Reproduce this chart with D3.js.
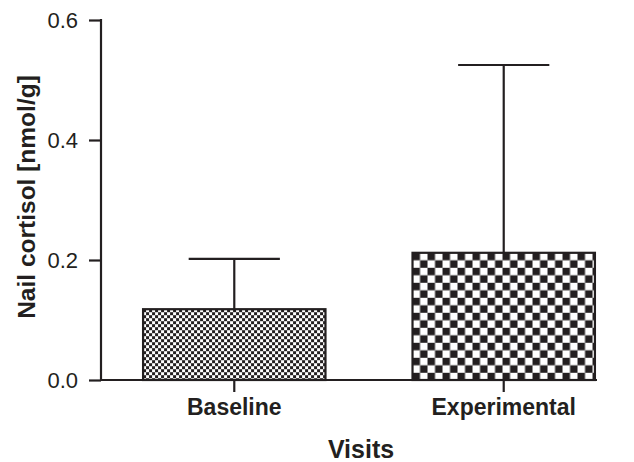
<!DOCTYPE html>
<html>
<head>
<meta charset="utf-8">
<script src="https://cdn.jsdelivr.net/npm/d3@7/dist/d3.min.js"></script>
<style>
  html, body { margin: 0; padding: 0; background: #fff; }
  svg { display: block; }
  text { font-family: "Liberation Sans", Arial, Helvetica, sans-serif; fill: #231f20; }
</style>
</head>
<body>
<svg id="chart" width="634" height="462"></svg>
<script>
const categories = ["Baseline", "Experimental"];
const means = [0.118, 0.212];
const errorTops = [0.202, 0.525];
const yTicks = [0.0, 0.2, 0.4, 0.6];
const yTickLabels = ["0.0", "0.2", "0.4", "0.6"];
const patterns = ["fineCheck", "coarseCheck"];

const ink = "#231f20";
const svg = d3.select("#chart");
const y = d3.scaleLinear().domain([0, 0.6]).range([380, 20]);
const x = d3.scaleBand().domain(categories).range([99.5, 638.5]).paddingInner(0.323).paddingOuter(0.1617);

const defs = svg.append("defs");
function checker(id, size, bx, by) {
  const p = defs.append("pattern").attr("id", id).attr("patternUnits", "userSpaceOnUse")
    .attr("width", size * 2).attr("height", size * 2).attr("x", bx).attr("y", by);
  p.append("rect").attr("width", size * 2).attr("height", size * 2).attr("fill", "#fff");
  p.append("rect").attr("width", size).attr("height", size).attr("fill", ink);
  p.append("rect").attr("x", size).attr("y", size).attr("width", size).attr("height", size).attr("fill", ink);
}
checker("fineCheck", 3, x(categories[0]), y(means[0]));
checker("coarseCheck", 7.5, x(categories[1]), y(means[1]));

// Bars
svg.selectAll("rect.bar").data(categories).join("rect")
  .attr("class", "bar")
  .attr("x", d => x(d))
  .attr("y", (d, i) => y(means[i]))
  .attr("width", x.bandwidth())
  .attr("height", (d, i) => y(0) - y(means[i]))
  .attr("fill", (d, i) => `url(#${patterns[i]})`)
  .attr("stroke", ink).attr("stroke-width", 2.2);

// Error bars
const capW = x.bandwidth() / 2;
categories.forEach((c, i) => {
  const cx = x(c) + x.bandwidth() / 2;
  svg.append("line").attr("x1", cx).attr("x2", cx).attr("y1", y(means[i])).attr("y2", y(errorTops[i]))
    .attr("stroke", ink).attr("stroke-width", 2.2);
  svg.append("line").attr("x1", cx - capW / 2).attr("x2", cx + capW / 2).attr("y1", y(errorTops[i])).attr("y2", y(errorTops[i]))
    .attr("stroke", ink).attr("stroke-width", 2.2);
});

// Y axis
const yAxis = d3.axisLeft(y).tickValues(yTicks).tickFormat((d, i) => yTickLabels[i]).tickSize(12).tickPadding(11);
const gy = svg.append("g").attr("transform", "translate(101,0)").call(yAxis);
gy.select(".domain").attr("stroke", ink).attr("stroke-width", 2.2).attr("d", "M0,19V381");
gy.selectAll(".tick line").attr("stroke", ink).attr("stroke-width", 2.2);
gy.selectAll(".tick text").attr("font-size", 22).attr("font-family", "Liberation Sans, Arial, sans-serif").attr("fill", ink).attr("dy", "0.36em");

// X axis
const xAxis = d3.axisBottom(x).tickSize(12).tickPadding(10);
const gx = svg.append("g").attr("transform", "translate(0,380)").call(xAxis);
gx.select(".domain").attr("stroke", ink).attr("stroke-width", 2.2).attr("d", "M100,0H597");
gx.selectAll(".tick line").attr("stroke", ink).attr("stroke-width", 2.2);
gx.selectAll(".tick text").attr("font-size", 23).attr("font-weight", "bold")
  .attr("font-family", "Liberation Sans, Arial, sans-serif").attr("fill", ink).attr("dy", "0").attr("y", 35);

// Titles
svg.append("text").attr("x", 361).attr("y", 458).attr("text-anchor", "middle")
  .attr("font-size", 25).attr("font-weight", "bold").text("Visits");
svg.append("text").attr("transform", "translate(35,197) rotate(-90)").attr("text-anchor", "middle")
  .attr("font-size", 24.5).attr("font-weight", "bold").text("Nail cortisol [nmol/g]");
</script>
</body>
</html>
